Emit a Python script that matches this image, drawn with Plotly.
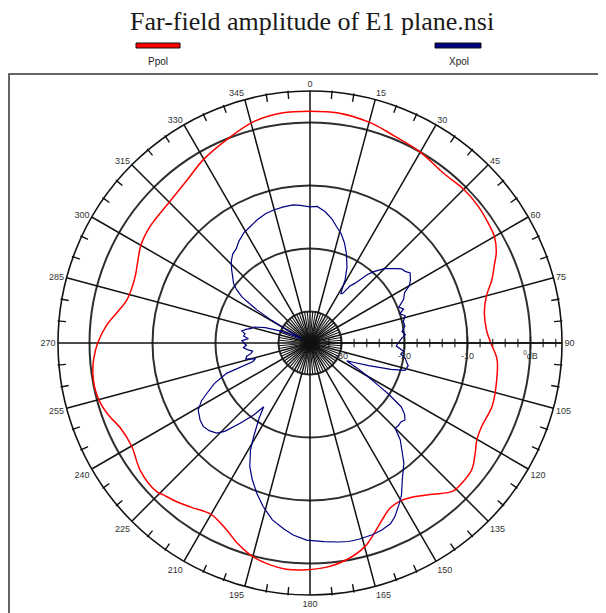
import plotly.graph_objects as go

# ---------------- data ----------------
ppol_theta = [0, 7, 15, 22, 30, 38, 45, 51, 56, 60, 64, 67, 71, 75, 80, 86, 90, 95, 101, 109,
              116, 120, 124, 128, 133, 136, 141, 145, 150, 154, 157, 161, 165, 171, 176, 181,
              186, 190, 195, 200, 204, 210, 216, 220, 224, 226, 233, 240, 246, 250, 254, 258,
              262, 266, 270, 275, 279, 283, 287, 291, 295, 300, 306, 315, 323, 330, 339, 346,
              353, 360]
ppol_db = [1.8, 1.8, 1.3, 0.5, 0.0, -0.7, -0.5, -0.6, -0.9, -1.2, -2.1, -3.2, -4.5, -6.0, -6.9,
           -6.9, -6.3, -5.2, -4.8, -4.4, -4.7, -4.4, -3.4, -2.4, -2.2, -2.3, -4.1, -5.3, -6.1,
           -5.9, -5.0, -3.3, -1.5, 0.0, 0.7, 1.0, 1.1, 0.8, 0.1, -1.2, -2.5, -3.6, -2.8, -2.1,
           -1.5, -1.1, -1.3, -2.3, -2.0, -1.1, -0.4, -0.1, -0.2, -0.6, -1.3, -2.6, -4.0, -5.1,
           -5.4, -5.3, -4.8, -4.0, -3.6, -3.4, -2.6, -1.3, 0.1, 1.3, 1.8, 1.8]

xpol_theta = [0, 3, 6.5, 10, 13, 16, 19, 22, 26, 29, 32, 33.5, 35, 37, 40, 42, 45, 49, 51, 53,
              55, 58, 60, 62, 65, 68, 70, 72, 74, 77, 80, 83, 85, 87, 90, 92, 95, 97, 99, 101,
              103, 106, 108, 111, 114, 116, 118, 120, 122, 123, 125, 127, 129, 131, 133, 135,
              137, 140, 142, 146, 149, 151, 154, 156, 159, 162, 166, 169, 172, 176, 181, 185,
              188, 192, 196, 199.5, 203, 206, 209, 211, 214, 216, 218, 221, 224, 226, 229, 232,
              235, 239, 242, 244, 247, 250, 252, 254, 256, 258, 260, 262, 264, 266, 268, 270,
              272, 274, 276, 278, 280, 282, 284, 286, 289, 292, 295, 297, 299, 300.5, 302, 304,
              306, 308, 311, 313, 316, 319, 322, 325, 329, 333, 337, 341, 345, 349, 353, 356, 360]
xpol_db = [-13.4, -13.3, -14.0, -15.0, -16.1, -17.0, -18.2, -19.6, -21.6, -23.5, -25.8, -25.5,
           -24.0, -23.1, -20.8, -19.7, -18.3, -17.0, -16.3, -16.1, -15.6, -16.2, -16.8, -18.0,
           -18.6, -19.8, -19.2, -20.0, -19.3, -19.8, -19.7, -20.3, -19.8, -20.4, -21.0, -21.3,
           -20.1, -20.5, -19.7, -19.4, -19.0, -19.3, -21.5, -25.0, -27.5, -28.5, -26.5, -24.5,
           -22.0, -20.2, -17.3, -16.2, -15.6, -15.9, -15.8, -15.9, -14.0, -12.2, -10.8, -8.8,
           -6.8, -5.8, -4.3, -3.6, -3.2, -3.0, -2.9, -2.9, -3.1, -3.4, -3.7, -4.4, -5.2, -6.3,
           -8.0, -9.7, -11.5, -13.2, -15.5, -17.6, -20.5, -22.5, -20.5, -18.1, -15.5, -14.4,
           -13.8, -13.5, -13.7, -14.3, -15.5, -16.8, -18.5, -20.9, -25.5, -26.0, -24.5, -24.7,
           -25.5, -25.8, -25.0, -24.4, -24.9, -24.5, -24.2, -25.2, -24.4, -24.6, -24.0, -24.6,
           -25.4, -25.8, -27.5, -30.0, -32.5, -33.5, -31.0, -28.0, -25.0, -22.0, -20.6, -19.6,
           -18.7, -18.0, -17.0, -16.3, -16.0, -15.3, -14.6, -14.2, -13.7, -13.3, -13.1, -13.0,
           -12.9, -13.1, -13.4]

r_range = [-35, 5]
radial_ticks = [-30, -20, -10, 0]
radial_ticktext = ["-30", "-20", "-10", "<sup>0</sup>dB"]
radial_minor = list(range(-34, 5, 2))
angle_labels = list(range(0, 360, 15))
angle_minor = [a for a in range(0, 360, 5) if a % 15]

title_text = "Far-field amplitude of E1 plane.nsi"
series_names = ["Ppol", "Xpol"]
series_colors = ["#ff0000", "#000080"]

# ---------------- geometry (window pixels; the page body has an 8px margin) ----------------
OFF = 8
W, H = 598, 605


def px(X):
    return (X - OFF) / W


def py(Y):
    return 1 - (Y - OFF) / H


cx, cy, rad = 310, 343, 252

fig = go.Figure()

# full spokes every 15 deg
sp_r, sp_t = [], []
for a in angle_labels:
    sp_r += [r_range[0], r_range[1], None]
    sp_t += [a, a, None]
fig.add_trace(go.Scatterpolar(r=sp_r, theta=sp_t, mode="lines",
                              line=dict(color="#111111", width=1.5),
                              hoverinfo="skip", showlegend=False))
# short spokes every 5 deg inside the innermost circle
ss_r, ss_t = [], []
for a in angle_minor:
    ss_r += [r_range[0], radial_ticks[0], None]
    ss_t += [a, a, None]
fig.add_trace(go.Scatterpolar(r=ss_r, theta=ss_t, mode="lines",
                              line=dict(color="#111111", width=1.1),
                              hoverinfo="skip", showlegend=False))
# minor ticks on the outer circle (every 5 deg, pointing inward)
fig.add_trace(go.Scatterpolar(r=[r_range[1] - 0.45] * len(angle_minor), theta=angle_minor,
                              mode="markers",
                              marker=dict(symbol="line-ns", size=6, angle=angle_minor,
                                          line=dict(color="#111111", width=1.4)),
                              hoverinfo="skip", showlegend=False))
# minor ticks on the radial (90 deg) axis
fig.add_trace(go.Scatterpolar(r=radial_minor, theta=[90] * len(radial_minor), mode="markers",
                              marker=dict(symbol="line-ns",
                                          size=[9 if v in radial_ticks else 6 for v in radial_minor],
                                          line=dict(color="#111111", width=1.5)),
                              hoverinfo="skip", showlegend=False))

fig.add_trace(go.Scatterpolar(r=ppol_db, theta=ppol_theta, mode="lines", name=series_names[0],
                              line=dict(color=series_colors[0], width=1.5, shape="spline"),
                              showlegend=False))
fig.add_trace(go.Scatterpolar(r=xpol_db, theta=xpol_theta, mode="lines", name=series_names[1],
                              line=dict(color=series_colors[1], width=1.2),
                              showlegend=False))

fig.update_layout(
    width=W, height=H, autosize=False,
    margin=dict(l=0, r=0, t=0, b=0),
    paper_bgcolor="white", plot_bgcolor="white",
    font=dict(family="Liberation Sans, Arial", size=9, color="#333333"),
    polar=dict(
        domain=dict(x=[px(cx - rad), px(cx + rad)],
                    y=[py(cy + rad), py(cy - rad)]),
        bgcolor="white",
        radialaxis=dict(range=r_range, tickvals=radial_ticks, ticktext=radial_ticktext,
                        showgrid=True, gridcolor="#2e2e2e", gridwidth=1.6,
                        showline=True, linecolor="#111111", linewidth=1.5,
                        ticks="outside", ticklen=4, tickcolor="rgba(0,0,0,0)",
                        angle=0, side="clockwise",
                        tickfont=dict(size=9, color="#333333")),
        angularaxis=dict(rotation=90, direction="clockwise",
                         tickvals=angle_labels,
                         ticktext=[str(a) for a in angle_labels],
                         ticks="", showgrid=False,
                         showline=True, linecolor="#111111", linewidth=1.6,
                         tickfont=dict(size=9, color="#333333")),
    ),
    shapes=[
        dict(type="rect", xref="paper", yref="paper", x0=px(9), x1=1.05, y0=-0.05, y1=py(74),
             line=dict(color="#333333", width=1.5), fillcolor="rgba(0,0,0,0)", layer="below"),
        dict(type="rect", xref="paper", yref="paper", x0=px(136), x1=px(180),
             y0=py(48), y1=py(43), line=dict(color="#111111", width=1), fillcolor=series_colors[0]),
        dict(type="rect", xref="paper", yref="paper", x0=px(435), x1=px(481),
             y0=py(48), y1=py(43), line=dict(color="#111111", width=1), fillcolor=series_colors[1]),
    ],
    annotations=[
        dict(text=title_text, x=px(312), y=py(21), xref="paper", yref="paper",
             showarrow=False, xanchor="center", yanchor="middle",
             font=dict(family="Liberation Serif, Times New Roman", size=26, color="#1a1a1a")),
        dict(text=series_names[0], x=px(158), y=py(61), xref="paper", yref="paper",
             showarrow=False, xanchor="center", yanchor="middle", font=dict(size=10, color="#222222")),
        dict(text=series_names[1], x=px(459), y=py(61), xref="paper", yref="paper",
             showarrow=False, xanchor="center", yanchor="middle", font=dict(size=10, color="#222222")),
    ],
)

fig.write_html("out.html")
